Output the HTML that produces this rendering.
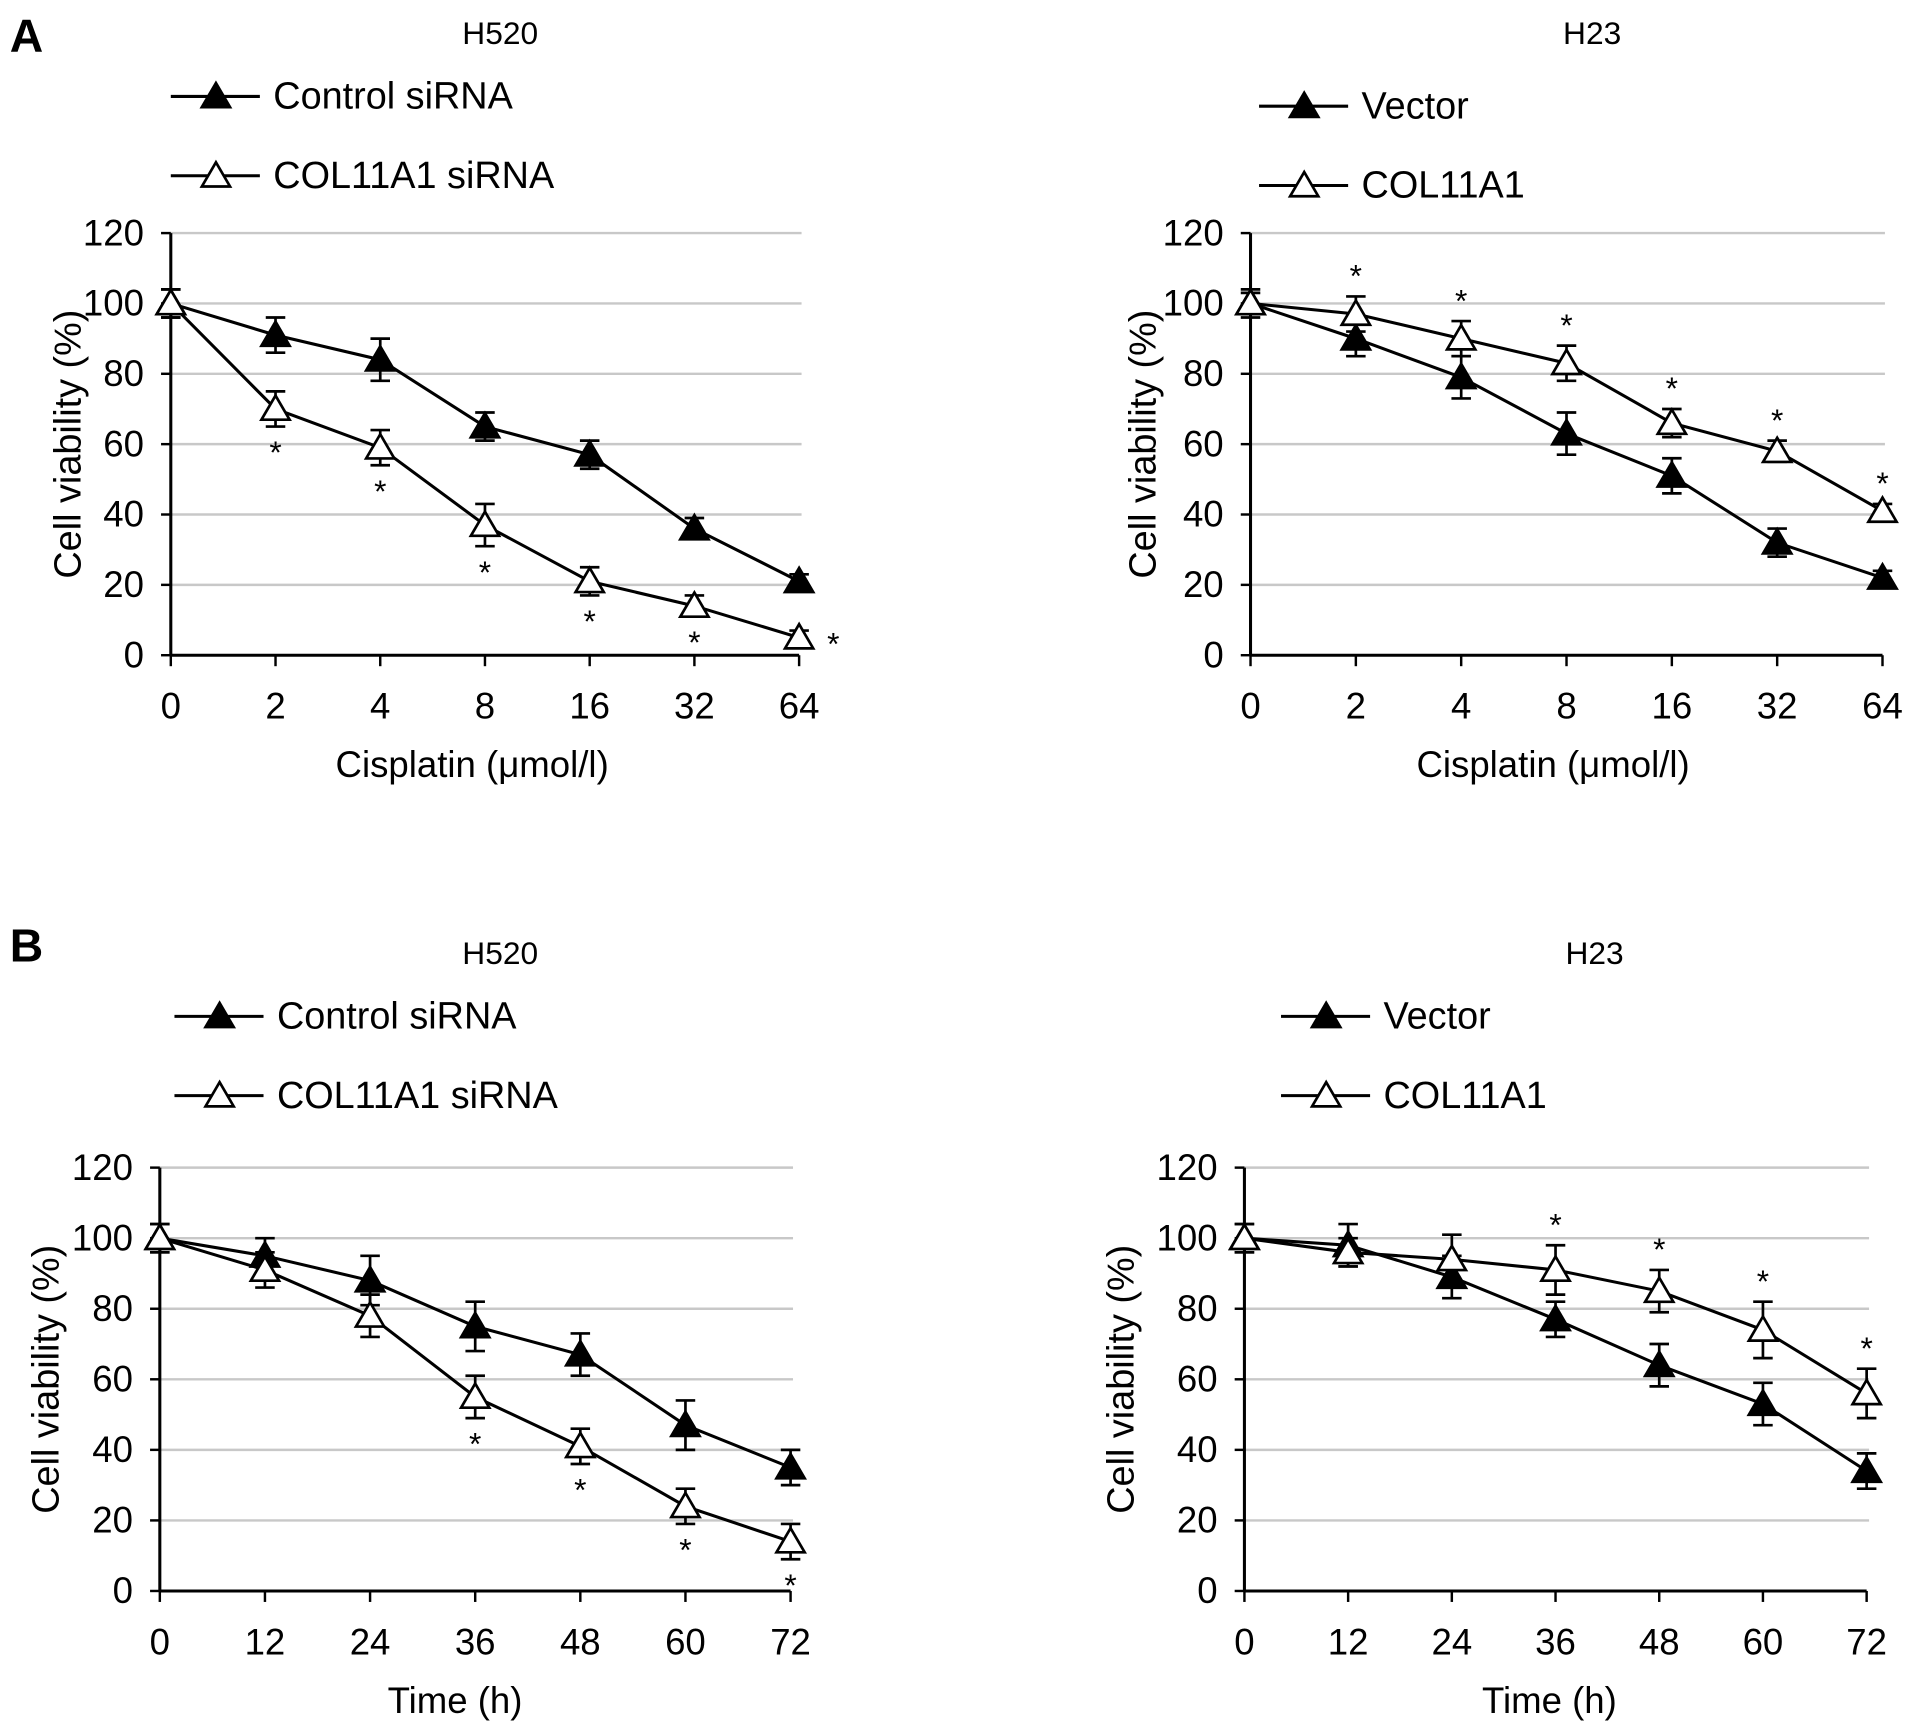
<!DOCTYPE html>
<html><head><meta charset="utf-8"><style>
html,body{margin:0;padding:0;background:#fff}
svg{display:block;font-family:"Liberation Sans",sans-serif}
</style></head><body>
<svg id="fig" width="1913" height="1735" viewBox="0 0 1568 1422">
<text x="8" y="42" font-size="38" font-weight="bold">A</text>
<text x="8" y="788" font-size="38" font-weight="bold">B</text>
</svg>
<script>
const catsA = ["0","2","4","8","16","32","64"];
const catsB = ["0","12","24","36","48","60","72"];
const yTicks = [0,20,40,60,80,100,120];
const aLeftCtrl = [100,91,84,65,57,36,21];
const aLeftCtrlErr = [4,5,6,4,4,3,2];
const aLeftSi = [100,70,59,37,21,14,5];
const aLeftSiErr = [4,5,5,6,4,3,2];
const aLeftStars = [0,1,1,1,1,1,1];
const aRightVec = [100,90,79,63,51,32,22];
const aRightVecErr = [3,5,6,6,5,4,2];
const aRightCol = [100,97,90,83,66,58,41];
const aRightColErr = [4,5,5,5,4,3,2];
const aRightStars = [0,1,1,1,1,1,1];
const bLeftCtrl = [100,95,88,75,67,47,35];
const bLeftCtrlErr = [4,5,7,7,6,7,5];
const bLeftSi = [100,91,78,55,41,24,14];
const bLeftSiErr = [4,5,6,6,5,5,5];
const bLeftStars = [0,0,0,1,1,1,1];
const bRightVec = [100,98,89,77,64,53,34];
const bRightVecErr = [4,6,6,5,6,6,5];
const bRightCol = [100,96,94,91,85,74,56];
const bRightColErr = [4,4,7,7,6,8,7];
const bRightStars = [0,0,0,1,1,1,1];

const NS="http://www.w3.org/2000/svg";
const svg=document.getElementById('fig');
function mk(tag,attrs,parent,text){const e=document.createElementNS(NS,tag);for(const k in attrs)e.setAttribute(k,attrs[k]);if(text!==undefined)e.textContent=text;(parent||svg).appendChild(e);return e;}
function tri(g,cx,cy,filled,s){s=s||11;return mk('polygon',{points:`${cx},${cy-s} ${cx-s*1.05},${cy+s*0.8} ${cx+s*1.05},${cy+s*0.8}`,fill:filled?'#000':'#fff',stroke:'#000','stroke-width':2.2},g);}

function panel(p){
  const g=mk('g',{});
  
  
  const X=i=>p.x0+i*(p.x1-p.x0)/(p.cats.length-1);
  const Y=v=>p.y0-(v/120)*(p.y0-p.y120);
  const t=mk('text',{x:p.titleX,y:p.titleY,'font-size':26,'text-anchor':'middle'},g,p.title);
  
  
  yTicks.forEach(v=>{
    if(v>0){const gl=mk('line',{x1:p.x0,x2:p.x1+2,y1:Y(v),y2:Y(v),stroke:'#c8c8c8','stroke-width':2},g);
      
      }
    mk('line',{x1:p.x0-8,x2:p.x0,y1:Y(v),y2:Y(v),stroke:'#000','stroke-width':2},g);
    const tl=mk('text',{x:p.x0-22,y:Y(v)+10,'font-size':30,'text-anchor':'end'},g,String(v));
    
    
  });
  mk('line',{x1:p.x0,x2:p.x0,y1:p.y120,y2:p.y0,stroke:'#000','stroke-width':2.5},g);
  mk('line',{x1:p.x0,x2:p.x1,y1:p.y0,y2:p.y0,stroke:'#000','stroke-width':2.5},g);
  p.cats.forEach((c,i)=>{
    mk('line',{x1:X(i),x2:X(i),y1:p.y0,y2:p.y0+9,stroke:'#000','stroke-width':2},g);
    const tl=mk('text',{x:X(i),y:p.y0+52,'font-size':30,'text-anchor':'middle'},g,c);
    
    
  });
  const xl=mk('text',{x:p.xlX,y:p.y0+100,'font-size':30,'text-anchor':'middle'},g,p.xlabel);
  
  
  const cy=(p.y0+p.y120)/2;
  const yl=mk('text',{x:0,y:0,'font-size':31,'text-anchor':'middle',transform:`translate(${p.ylX},${cy}) rotate(-90)`},g,'Cell viability (%)');
  
  
  p.series.forEach((s,si)=>{
    const sg=mk('g',{},g);
    
    
    mk('polyline',{points:s.vals.map((v,i)=>`${X(i)},${Y(v)}`).join(' '),fill:'none',stroke:'#000','stroke-width':2.5},sg);
    s.vals.forEach((v,i)=>{
      const e=s.err[i];
      mk('line',{x1:X(i),x2:X(i),y1:Y(v+e),y2:Y(v-e),stroke:'#000','stroke-width':2.2},sg);
      mk('line',{x1:X(i)-8,x2:X(i)+8,y1:Y(v+e),y2:Y(v+e),stroke:'#000','stroke-width':2.2},sg);
      mk('line',{x1:X(i)-8,x2:X(i)+8,y1:Y(v-e),y2:Y(v-e),stroke:'#000','stroke-width':2.2},sg);
    });
    s.vals.forEach((v,i)=>{
      const m=tri(sg,X(i),Y(v),s.filled);
      
      
    });
    const ly=p.legY[si];
    const lg=mk('g',{},g);
    
    
    mk('line',{x1:p.legX,x2:p.legX+73,y1:ly,y2:ly,stroke:'#000','stroke-width':2.5},lg);
    tri(lg,p.legX+37,ly,s.filled,11);
    mk('text',{x:p.legX+84,y:ly+10,'font-size':31},lg,s.label);
  });
  const ss=p.series[1];
  p.stars.forEach((st,i)=>{
    if(!st)return;
    let x=X(i),y;
    if(p.starAbove){y=Y(ss.vals[i]+ss.err[i])-8;}
    else{y=Y(ss.vals[i]-ss.err[i])+30;}
    if(p.lastRight && i===p.cats.length-1){x=X(i)+28;y=Y(ss.vals[i])+14;}
    const sm=mk('text',{x:x,y:y,'font-size':26,'text-anchor':'middle'},g,'*');
    
    
  });
}

panel({name:'chart-a-h520',title:'H520',titleX:410,titleY:36,cats:catsA,x0:140,x1:655,y0:537,y120:191,
  xlabel:'Cisplatin (\u03bcmol/l)',xlX:387,ylX:66,legX:140,legY:[79,144],stars:aLeftStars,starAbove:false,lastRight:true,
  series:[{key:'series-control-sirna',label:'Control siRNA',vals:aLeftCtrl,err:aLeftCtrlErr,filled:true},
          {key:'series-col11a1-sirna',label:'COL11A1 siRNA',vals:aLeftSi,err:aLeftSiErr,filled:false}]});
panel({name:'chart-a-h23',title:'H23',titleX:1305,titleY:36,cats:catsA,x0:1025,x1:1543,y0:537,y120:191,
  xlabel:'Cisplatin (\u03bcmol/l)',xlX:1273,ylX:947,legX:1032,legY:[87,152],stars:aRightStars,starAbove:true,
  series:[{key:'series-vector',label:'Vector',vals:aRightVec,err:aRightVecErr,filled:true},
          {key:'series-col11a1',label:'COL11A1',vals:aRightCol,err:aRightColErr,filled:false}]});
panel({name:'chart-b-h520',title:'H520',titleX:410,titleY:790,cats:catsB,x0:131,x1:648,y0:1304,y120:957,
  xlabel:'Time (h)',xlX:373,ylX:48,legX:143,legY:[833,898],stars:bLeftStars,starAbove:false,
  series:[{key:'series-control-sirna',label:'Control siRNA',vals:bLeftCtrl,err:bLeftCtrlErr,filled:true},
          {key:'series-col11a1-sirna',label:'COL11A1 siRNA',vals:bLeftSi,err:bLeftSiErr,filled:false}]});
panel({name:'chart-b-h23',title:'H23',titleX:1307,titleY:790,cats:catsB,x0:1020,x1:1530,y0:1304,y120:957,
  xlabel:'Time (h)',xlX:1270,ylX:929,legX:1050,legY:[833,898],stars:bRightStars,starAbove:true,
  series:[{key:'series-vector',label:'Vector',vals:bRightVec,err:bRightVecErr,filled:true},
          {key:'series-col11a1',label:'COL11A1',vals:bRightCol,err:bRightColErr,filled:false}]});
</script>
</body></html>
